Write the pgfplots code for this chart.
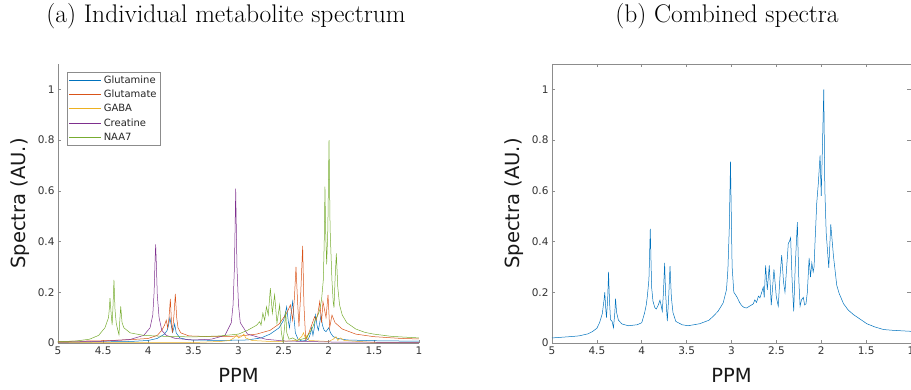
\documentclass[border=0pt]{standalone}
\usepackage{pgfplots}
\pgfplotsset{compat=1.18}
\usepackage{fontspec}
\newfontfamily\dv{DejaVu Sans}
\definecolor{c1}{rgb}{0,0.447,0.741}
\definecolor{c2}{rgb}{0.850,0.325,0.098}
\definecolor{c3}{rgb}{0.929,0.694,0.125}
\definecolor{c4}{rgb}{0.494,0.184,0.556}
\definecolor{c5}{rgb}{0.466,0.674,0.188}
\pgfplotsset{
  spec/.style={
    scale only axis, width=361pt, height=279pt,
    anchor=south west,
    x dir=reverse, xmin=1, xmax=5, ymin=0, ymax=1.1,
    xtick={1,1.5,2,2.5,3,3.5,4,4.5,5},
    xticklabels={1,1.5,2,2.5,3,3.5,4,4.5,5},
    ytick={0,0.2,0.4,0.6,0.8,1},
    yticklabels={0,0.2,0.4,0.6,0.8,1},
    /pgf/number format/assume math mode=true,
    ticklabel style={font=\dv\fontsize{10.5}{12}\selectfont, text=black!80},
    tick align=inside, major tick length=3.5pt,
    tick style={black!45, line width=0.6pt},
    axis line style={black!45, line width=0.6pt},
    label style={font=\dv\fontsize{19.5}{22}\selectfont, text=black!90},
    xlabel={PPM}, ylabel={Spectra (AU.)},
    xlabel style={at={(axis description cs:0.5,-0.115)}, anchor=center},
    ylabel style={at={(axis description cs:-0.105,0.5)}, anchor=center},
    every axis plot/.append style={line width=0.5pt, no markers},
  }
}
\begin{document}
\begin{tikzpicture}
\useasboundingbox (0,0) rectangle (911pt,389pt);
\node[anchor=base, font=\fontsize{25.5}{28}\selectfont] at (226pt,366pt) {(a) Individual metabolite spectrum};
\node[anchor=base, font=\fontsize{25.5}{28}\selectfont] at (727pt,366pt) {(b) Combined spectra};
\begin{axis}[spec, at={(58pt,46pt)}, axis lines*=left,
  legend style={at={(axis description cs:0.025,0.971)}, anchor=north west,
    draw=black!45, line width=0.5pt, font=\dv\fontsize{10}{11}\selectfont, text=black!85,
    inner sep=1.5pt, row sep=1.2pt, cells={anchor=west}},
  legend image code/.code={\draw[#1,line width=1pt] (0pt,0pt) -- (32pt,0pt);}]
% Glutamine
\addplot[c1] coordinates {
(5.0,0.003)(4.6,0.004)(4.2,0.006)(4.0,0.010)(3.9,0.018)(3.82,0.035)(3.79,0.050)(3.775,0.070)
(3.76,0.100)(3.745,0.070)(3.73,0.042)(3.715,0.060)(3.707,0.075)(3.69,0.040)(3.65,0.020)
(3.55,0.012)(3.2,0.010)(2.9,0.012)(2.75,0.020)(2.65,0.035)(2.55,0.060)(2.50,0.090)(2.48,0.120)
(2.466,0.143)(2.45,0.090)(2.435,0.060)(2.42,0.110)(2.40,0.163)(2.385,0.100)(2.37,0.040)
(2.34,0.015)(2.30,0.008)(2.25,0.010)(2.22,0.020)(2.20,0.040)(2.19,0.060)(2.175,0.030)
(2.16,0.060)(2.145,0.110)(2.13,0.070)(2.115,0.050)(2.10,0.080)(2.085,0.110)(2.07,0.070)
(2.05,0.050)(2.03,0.045)(2.0,0.060)(1.98,0.040)(1.95,0.025)(1.9,0.018)(1.8,0.012)(1.5,0.009)(1.0,0.007)};
\addlegendentry{Glutamine}
% Glutamate
\addplot[c2] coordinates {
(5.0,0.006)(4.5,0.009)(4.2,0.013)(4.0,0.018)(3.9,0.030)(3.85,0.050)(3.82,0.070)(3.80,0.090)
(3.785,0.060)(3.77,0.100)(3.755,0.174)(3.745,0.100)(3.733,0.040)(3.715,0.110)(3.70,0.194)
(3.685,0.100)(3.67,0.060)(3.64,0.040)(3.55,0.028)(3.3,0.025)(3.0,0.027)(2.8,0.035)(2.65,0.050)
(2.55,0.075)(2.48,0.110)(2.45,0.130)(2.425,0.150)(2.40,0.090)(2.38,0.180)(2.363,0.300)
(2.345,0.160)(2.33,0.065)(2.31,0.200)(2.289,0.383)(2.275,0.150)(2.255,0.012)(2.22,0.040)
(2.19,0.070)(2.156,0.104)(2.14,0.090)(2.12,0.117)(2.10,0.163)(2.08,0.080)(2.064,0.163)
(2.03,0.100)(2.008,0.190)(1.99,0.060)(1.964,0.110)(1.93,0.080)(1.85,0.055)(1.7,0.035)
(1.5,0.025)(1.2,0.018)(1.0,0.016)};
\addlegendentry{Glutamate}
% GABA
\addplot[c3] coordinates {
(5.0,0.001)(3.5,0.002)(3.2,0.006)(3.1,0.010)(3.05,0.020)(3.02,0.032)(3.0,0.020)(2.97,0.025)
(2.94,0.035)(2.92,0.020)(2.85,0.010)(2.6,0.005)(2.35,0.010)(2.30,0.025)(2.28,0.040)(2.26,0.020)
(2.24,0.030)(2.22,0.010)(2.0,0.006)(1.95,0.015)(1.92,0.025)(1.90,0.010)(1.87,0.020)(1.83,0.010)
(1.5,0.002)(1.0,0.001)};
\addlegendentry{GABA}
% Creatine
\addplot[c4] coordinates {
(5.0,0.003)(4.5,0.007)(4.2,0.014)(4.05,0.030)(3.98,0.060)(3.95,0.110)(3.935,0.200)(3.925,0.320)
(3.918,0.389)(3.91,0.310)(3.90,0.190)(3.88,0.100)(3.85,0.050)(3.80,0.030)(3.70,0.018)(3.50,0.012)
(3.30,0.015)(3.15,0.030)(3.08,0.080)(3.06,0.150)(3.045,0.300)(3.038,0.450)(3.031,0.609)
(3.024,0.450)(3.017,0.300)(3.00,0.150)(2.98,0.080)(2.90,0.035)(2.70,0.015)(2.50,0.008)
(2.00,0.004)(1.00,0.002)};
\addlegendentry{Creatine}
% NAA7
\addplot[c5] coordinates {
(5.0,0.005)(4.8,0.008)(4.65,0.015)(4.55,0.030)(4.48,0.060)(4.44,0.100)(4.43,0.140)(4.424,0.177)
(4.41,0.110)(4.40,0.071)(4.39,0.150)(4.38,0.249)(4.368,0.130)(4.355,0.080)(4.346,0.064)
(4.324,0.032)(4.315,0.090)(4.305,0.144)(4.29,0.080)(4.27,0.060)(4.2,0.040)(4.05,0.030)
(3.8,0.026)(3.5,0.024)(3.2,0.028)(3.0,0.035)(2.9,0.050)(2.8,0.070)(2.765,0.084)(2.75,0.070)
(2.73,0.118)(2.71,0.090)(2.69,0.143)(2.67,0.110)(2.647,0.216)(2.625,0.118)(2.60,0.190)
(2.574,0.078)(2.544,0.150)(2.525,0.040)(2.507,0.005)(2.49,0.060)(2.477,0.125)(2.465,0.040)
(2.44,0.015)(2.40,0.020)(2.35,0.010)(2.30,0.015)(2.25,0.020)(2.22,0.035)(2.18,0.060)
(2.15,0.090)(2.12,0.110)(2.10,0.130)(2.08,0.170)(2.06,0.250)(2.05,0.400)(2.042,0.617)
(2.035,0.450)(2.023,0.310)(2.01,0.450)(1.997,0.800)(1.985,0.450)(1.965,0.250)(1.950,0.160)
(1.942,0.140)(1.93,0.250)(1.916,0.353)(1.90,0.220)(1.88,0.150)(1.85,0.110)(1.80,0.080)
(1.70,0.055)(1.60,0.042)(1.50,0.035)(1.30,0.026)(1.00,0.020)};
\addlegendentry{NAA7}
\end{axis}
\begin{axis}[spec, at={(552pt,46pt)}, width=359pt]
\addplot[c1] coordinates {
(5.00,0.020)(4.80,0.025)(4.70,0.028)(4.60,0.036)(4.55,0.045)(4.50,0.058)(4.47,0.080)(4.44,0.115)
(4.42,0.170)(4.412,0.200)(4.40,0.130)(4.393,0.100)(4.38,0.170)(4.37,0.280)(4.36,0.170)
(4.348,0.092)(4.33,0.085)(4.315,0.060)(4.30,0.120)(4.292,0.175)(4.28,0.120)(4.26,0.090)
(4.22,0.075)(4.15,0.068)(4.05,0.072)(4.00,0.080)(3.968,0.119)(3.95,0.150)(3.939,0.180)
(3.92,0.250)(3.905,0.450)(3.89,0.220)(3.875,0.165)(3.855,0.140)(3.838,0.134)(3.815,0.150)
(3.797,0.169)(3.785,0.150)(3.771,0.125)(3.758,0.200)(3.745,0.316)(3.735,0.200)(3.715,0.086)
(3.70,0.180)(3.685,0.303)(3.67,0.180)(3.652,0.120)(3.62,0.085)(3.55,0.072)(3.484,0.068)
(3.354,0.076)(3.25,0.090)(3.205,0.105)(3.15,0.125)(3.093,0.158)(3.056,0.210)(3.04,0.290)
(3.025,0.450)(3.011,0.715)(3.00,0.450)(2.993,0.300)(2.974,0.200)(2.955,0.190)(2.937,0.180)
(2.91,0.160)(2.888,0.148)(2.86,0.140)(2.832,0.138)(2.80,0.145)(2.758,0.154)(2.74,0.170)
(2.721,0.160)(2.70,0.185)(2.683,0.178)(2.665,0.198)(2.646,0.220)(2.635,0.180)(2.62,0.306)
(2.601,0.210)(2.579,0.306)(2.557,0.149)(2.527,0.290)(2.50,0.180)(2.479,0.145)(2.46,0.260)
(2.441,0.346)(2.42,0.240)(2.404,0.200)(2.385,0.300)(2.367,0.393)(2.355,0.400)(2.341,0.415)
(2.325,0.250)(2.307,0.125)(2.29,0.300)(2.266,0.477)(2.25,0.250)(2.236,0.145)(2.22,0.170)
(2.20,0.180)(2.185,0.150)(2.17,0.155)(2.155,0.200)(2.135,0.336)(2.12,0.260)(2.105,0.316)
(2.09,0.280)(2.08,0.300)(2.069,0.400)(2.05,0.553)(2.032,0.632)(2.013,0.740)(2.00,0.580)
(1.985,0.800)(1.972,1.000)(1.96,0.606)(1.945,0.435)(1.916,0.296)(1.894,0.468)(1.864,0.343)
(1.827,0.227)(1.80,0.195)(1.752,0.155)(1.70,0.130)(1.641,0.112)(1.55,0.090)(1.492,0.076)
(1.40,0.063)(1.305,0.053)(1.20,0.050)(1.00,0.046)};
\end{axis}
\end{tikzpicture}
\end{document}
